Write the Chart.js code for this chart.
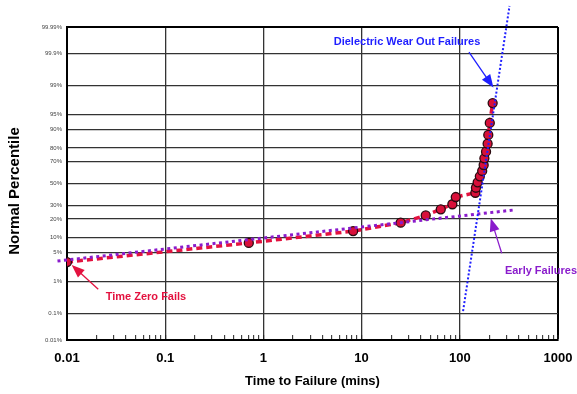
<!DOCTYPE html>
<html>
<head>
<meta charset="utf-8">
<script src="https://cdn.jsdelivr.net/npm/chart.js@4/dist/chart.umd.min.js"></script>
<style>
  html, body { margin: 0; padding: 0; background: #fff; }
</style>
</head>
<body>
<canvas id="myChart" width="577" height="394"></canvas>
<script>
// failure times (mins) and the percentile each failure is plotted at
var failTimes = [0.01, 0.71, 8.2, 25, 45, 64, 84, 91, 144, 146, 152, 160, 169, 175, 178, 185, 192, 195, 202, 216];
var failPct = [3.1, 7.9, 12.9, 17.6, 22.4, 27.0, 31.1, 37.4, 41.3, 46.0, 51.1, 56.8, 61.7, 67.0, 72.5, 77.5, 82.8, 87.6, 92.5, 97.2];

// fitted lines, end points only
var earlyTimes = [0.008, 350];
var earlyPct = [3.27, 26.4];
var wearTimes = [108, 321];
var wearPct = [0.122, 99.99877];

// axis ticks
var xDecades = [0.01, 0.1, 1, 10, 100, 1000];
var xMinor = [2, 3, 4, 5, 6, 7, 8, 9];
var yTicks = [0.01, 0.1, 1, 5, 10, 20, 30, 50, 70, 80, 90, 95, 99, 99.9, 99.99];

// callouts (text anchor and arrow, in data units)
var noteText = ['Dielectric Wear Out Failures', 'Early Failures', 'Time Zero Fails'];
var noteColor = ['#1e1eff', '#8a1ccc', '#e3123f'];
var noteX = [29, 671, 0.0637];
var notePct = [99.963, 1.88, 0.35];
var arrowFromX = [124, 267, 0.0208];
var arrowFromPct = [99.911, 4.86, 0.597];
var arrowToX = [220, 206.5, 0.01117];
var arrowToPct = [98.87, 20.4, 2.64];

// inverse normal cdf (Acklam)
function probit(p) {
  var a = [-3.969683028665376e+01, 2.209460984245205e+02, -2.759285104469687e+02, 1.383577518672690e+02, -3.066479806614716e+01, 2.506628277459239e+00];
  var b = [-5.447609879822406e+01, 1.615858368580409e+02, -1.556989798598866e+02, 6.680131188771972e+01, -1.328068155288572e+01];
  var c = [-7.784894002430293e-03, -3.223964580411365e-01, -2.400758277161838e+00, -2.549671010520500e+00, 4.374664141464968e+00, 2.938163982698783e+00];
  var d = [7.784695709041462e-03, 3.224671290700398e-01, 2.445134137142996e+00, 3.754408661907416e+00];
  var pl = 0.02425, q, r;
  if (p < pl) {
    q = Math.sqrt(-2 * Math.log(p));
    return (((((c[0]*q+c[1])*q+c[2])*q+c[3])*q+c[4])*q+c[5]) / ((((d[0]*q+d[1])*q+d[2])*q+d[3])*q+1);
  }
  if (p > 1 - pl) {
    q = Math.sqrt(-2 * Math.log(1 - p));
    return -(((((c[0]*q+c[1])*q+c[2])*q+c[3])*q+c[4])*q+c[5]) / ((((d[0]*q+d[1])*q+d[2])*q+d[3])*q+1);
  }
  q = p - 0.5; r = q * q;
  return (((((a[0]*r+a[1])*r+a[2])*r+a[3])*r+a[4])*r+a[5])*q / (((((b[0]*r+b[1])*r+b[2])*r+b[3])*r+b[4])*r+1);
}

// normal probability axis
class ProbitScale extends Chart.LinearScale {
  determineDataLimits() {
    this.min = yTicks[0];
    this.max = yTicks[yTicks.length - 1];
  }
  buildTicks() {
    return yTicks.map(function (v) { return { value: v }; });
  }
  configure() {
    super.configure();
    this._zMin = probit(this.min / 100);
    this._zMax = probit(this.max / 100);
  }
  getPixelForValue(v) {
    return this.getPixelForDecimal((probit(v / 100) - this._zMin) / (this._zMax - this._zMin));
  }
  getValueForPixel(px) {
    return this.getDecimalForPixel(px);
  }
}
ProbitScale.id = 'probit';
Chart.register(ProbitScale);

function pts(xs, ys) {
  return xs.map(function (x, i) { return { x: x, y: ys[i] }; });
}

var notesPlugin = {
  id: 'notes',
  afterDraw: function (chart) {
    var ctx = chart.ctx, xs = chart.scales.x, ys = chart.scales.y;
    ctx.save();
    for (var i = 0; i < noteText.length; i++) {
      var x1 = xs.getPixelForValue(arrowFromX[i]), y1 = ys.getPixelForValue(arrowFromPct[i]);
      var x2 = xs.getPixelForValue(arrowToX[i]), y2 = ys.getPixelForValue(arrowToPct[i]);
      var ang = Math.atan2(y2 - y1, x2 - x1), co = Math.cos(ang), si = Math.sin(ang);
      ctx.strokeStyle = noteColor[i];
      ctx.fillStyle = noteColor[i];
      ctx.lineWidth = 1.3;
      ctx.beginPath();
      ctx.moveTo(x1, y1);
      ctx.lineTo(x2 - 10 * co, y2 - 10 * si);
      ctx.stroke();
      ctx.beginPath();
      ctx.moveTo(x2, y2);
      ctx.lineTo(x2 - 13 * co + 5 * si, y2 - 13 * si - 5 * co);
      ctx.lineTo(x2 - 13 * co - 5 * si, y2 - 13 * si + 5 * co);
      ctx.closePath();
      ctx.fill();
      ctx.font = 'bold 11px "Liberation Sans", Arial, sans-serif';
      ctx.textAlign = 'center';
      ctx.textBaseline = 'middle';
      ctx.fillText(noteText[i], xs.getPixelForValue(noteX[i]), ys.getPixelForValue(notePct[i]));
    }
    // y axis title
    ctx.translate(15, 191);
    ctx.rotate(-Math.PI / 2);
    ctx.fillStyle = '#000';
    ctx.font = 'bold 15px "Liberation Sans", Arial, sans-serif';
    ctx.fillText('Normal Percentile', 0, 0);
    ctx.restore();
  }
};

Chart.defaults.font.family = '"Liberation Sans", Arial, sans-serif';

var ctx = document.getElementById('myChart');
var myChart = new Chart(ctx, {
  type: 'scatter',
  data: {
    datasets: [{
      label: 'Dielectric Wear Out',
      data: pts(wearTimes, wearPct),
      showLine: true,
      borderColor: '#1e1eff',
      borderWidth: 2,
      borderDash: [2, 2],
      pointRadius: 0,
      clip: false,
      order: 0
    }, {
      label: 'Early Failures',
      data: pts(earlyTimes, earlyPct),
      showLine: true,
      borderColor: '#8a1ccc',
      borderWidth: 3,
      borderDash: [3, 3.5],
      pointRadius: 0,
      clip: false,
      order: 1
    }, {
      label: 'Failures',
      data: pts(failTimes, failPct),
      showLine: true,
      borderColor: '#e3123f',
      borderWidth: 3.5,
      borderDash: [6, 4],
      pointRadius: 4.5,
      pointBackgroundColor: '#d8103a',
      pointBorderColor: '#2a0a10',
      pointBorderWidth: 1.3,
      order: 2
    }]
  },
  options: {
    responsive: false,
    animation: false,
    devicePixelRatio: 1,
    events: [],
    layout: { padding: { top: 27, right: 19, left: 0, bottom: 0 } },
    plugins: { legend: { display: false }, tooltip: { enabled: false } },
    scales: {
      x: {
        type: 'logarithmic',
        min: 0.01,
        max: 1000,
        afterBuildTicks: function (scale) {
          var t = [];
          xDecades.forEach(function (d, i) {
            t.push({ value: d, major: true });
            if (i < xDecades.length - 1) {
              xMinor.forEach(function (m) { t.push({ value: d * m }); });
            }
          });
          scale.ticks = t;
        },
        afterFit: function (scale) {
          scale.height = 54;
          scale.paddingLeft = 0;
          scale.paddingRight = 0;
        },
        grid: {
          color: function (c) {
            if (!c.tick || xDecades.indexOf(c.tick.value) < 0) return 'rgba(0,0,0,0)';
            return c.tick.value === 1000 ? '#000' : '#333';
          },
          lineWidth: function (c) { return c.tick && c.tick.value === 1000 ? 2 : 1.3; },
          tickColor: '#222',
          tickWidth: 1,
          tickLength: -5
        },
        border: { color: '#000', width: 2 },
        ticks: {
          autoSkip: false,
          maxRotation: 0,
          padding: 16,
          color: '#000',
          font: { size: 13, weight: 'bold' },
          callback: function (v) { return xDecades.indexOf(v) >= 0 ? String(v) : ''; }
        },
        title: {
          display: true,
          text: 'Time to Failure (mins)',
          color: '#000',
          font: { size: 13, weight: 'bold' },
          padding: { top: 0, bottom: 5 }
        }
      },
      y: {
        type: 'probit',
        position: 'left',
        afterFit: function (scale) {
          scale.width = 67;
          scale.paddingTop = 0;
          scale.paddingBottom = 0;
        },
        grid: {
          drawTicks: false,
          color: function (c) { return c.index === yTicks.length - 1 ? '#000' : '#333'; },
          lineWidth: function (c) { return c.index === yTicks.length - 1 ? 2 : 1.3; }
        },
        border: { color: '#000', width: 2 },
        ticks: {
          autoSkip: false,
          padding: 5,
          color: '#444',
          font: { size: 6 },
          callback: function (v) { return v + '%'; }
        }
      }
    }
  },
  plugins: [notesPlugin]
});
</script>
</body>
</html>
